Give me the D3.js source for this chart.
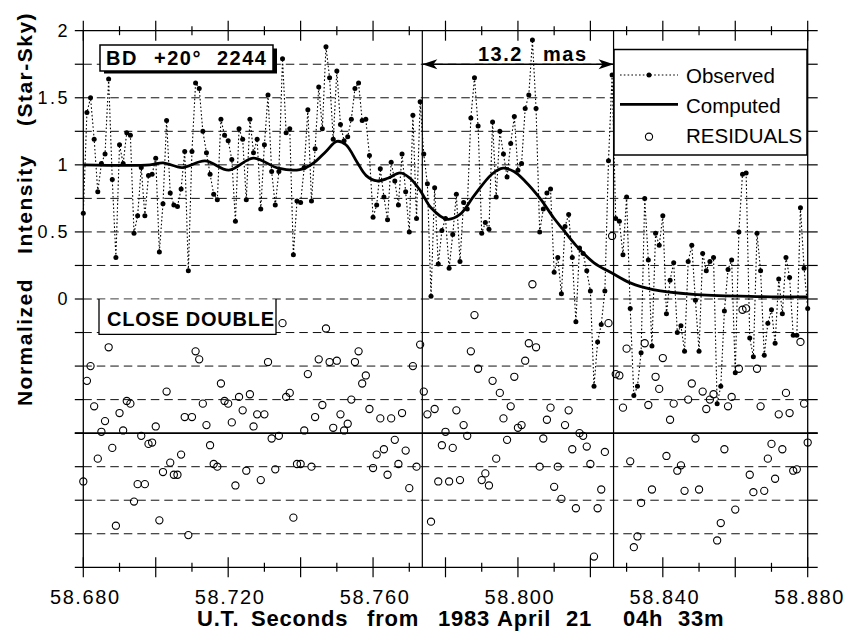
<!DOCTYPE html>
<html lang="en">
<head>
<meta charset="utf-8">
<script src="https://d3js.org/d3.v7.min.js"></script>
<title>BD +20 2244 occultation</title>
<style>
  body { margin:0; background:#fff; }
  svg { display:block; font-family:"Liberation Sans", Arial, Helvetica, sans-serif; }
  .grid { stroke:#111; stroke-width:1; stroke-dasharray:8.5,5; fill:none; }
  .axis { stroke:#000; stroke-width:1.3; fill:none; }
  .tick { stroke:#000; stroke-width:1.2; }
  .obsline { stroke:#000; stroke-width:1.1; stroke-dasharray:1.6,2.2; fill:none; }
  .computed { stroke:#000; stroke-width:2.8; fill:none; }
  .resid { stroke:#000; stroke-width:1.1; fill:none; }
  .bold { font-weight:bold; }
</style>
</head>
<body>
<script>

// samples every 1 ms starting at 58.680 s
var sampleStart = 58.680, sampleStep = 0.001;

var observed = [
  0.64,1.39,1.50,1.19,0.80,1.01,1.08,1.64,0.89,0.31,
  1.15,1.01,1.24,1.22,0.49,0.62,0.98,0.62,0.92,0.93,
  1.05,0.35,0.71,1.33,0.79,0.70,0.69,0.82,1.10,0.21,
  1.10,1.61,1.57,1.25,1.09,0.93,0.78,0.74,1.34,1.22,
  1.18,1.04,0.58,1.27,1.19,0.74,1.34,1.09,1.19,0.67,
  1.15,1.52,0.95,0.70,0.95,1.79,1.24,1.27,0.33,0.73,
  0.72,0.98,1.41,0.73,1.12,1.58,1.27,1.88,1.65,1.19,
  1.70,1.30,1.18,1.21,1.34,1.57,1.61,1.33,1.34,1.07,
  0.61,0.70,0.97,0.76,0.59,1.02,0.88,0.70,1.08,0.80,
  0.50,1.37,0.60,1.47,1.08,0.86,0.02,0.83,0.26,0.51,
  0.60,0.23,0.48,0.78,0.28,0.72,0.67,1.35,1.65,1.29,
  0.49,0.57,0.52,1.32,0.76,1.25,1.08,0.91,1.16,1.36,
  0.96,1.01,1.42,1.52,1.93,1.42,0.50,0.67,0.79,0.82,
  0.20,0.31,0.04,0.54,0.63,0.31,-0.17,0.38,0.34,0.21,
  0.06,-0.65,-0.32,-0.19,0.06,1.03,1.67,0.60,0.58,0.33,
  0.76,-0.07,-0.72,-0.65,-0.40,0.75,0.29,-0.35,0.49,0.40,
  0.62,-0.11,0.14,0.27,-0.25,-0.20,-0.39,0.28,0.40,-0.01,
  -0.39,0.34,0.21,0.28,0.31,-0.78,-0.65,-0.09,0.22,0.29,
  -0.55,0.50,0.93,0.94,-0.29,-0.43,0.49,0.21,-0.42,-0.18,
  -0.08,-0.33,0.15,-0.11,0.31,0.16,-0.27,-0.27,0.68,0.23,
  -0.07
];

var residuals = [
  -0.36,0.39,0.50,0.20,-0.19,0.01,0.09,0.64,-0.11,-0.69,
  0.15,0.02,0.24,0.22,-0.51,-0.38,-0.02,-0.38,-0.08,-0.07,
  0.05,-0.65,-0.29,0.31,-0.22,-0.31,-0.31,-0.16,0.12,-0.76,
  0.12,0.61,0.55,0.22,0.06,-0.09,-0.23,-0.25,0.37,0.24,
  0.22,0.08,-0.39,0.27,0.17,-0.28,0.29,0.05,0.14,-0.35,
  0.14,0.53,-0.04,-0.27,-0.02,0.82,0.27,0.30,-0.63,-0.23,
  -0.23,0.02,0.44,-0.25,0.12,0.55,0.21,0.78,0.53,0.04,
  0.54,0.14,0.02,0.07,0.25,0.53,0.61,0.37,0.43,0.18,
  -0.26,-0.16,0.11,-0.12,-0.31,0.11,-0.05,-0.23,0.15,-0.13,
  -0.41,0.50,-0.25,0.66,0.31,0.14,-0.66,0.18,-0.36,-0.09,
  0.01,-0.36,-0.11,0.17,-0.35,0.06,-0.02,0.61,0.88,0.48,
  -0.35,-0.30,-0.39,0.39,-0.19,0.30,0.11,-0.05,0.20,0.42,
  0.04,0.06,0.54,0.67,1.11,0.64,-0.25,-0.04,0.10,0.19,
  -0.40,-0.25,-0.49,0.06,0.17,-0.12,-0.56,0.00,-0.02,-0.10,
  -0.23,-0.92,-0.56,-0.42,-0.14,0.82,1.47,0.44,0.43,0.19,
  0.63,-0.21,-0.85,-0.77,-0.52,0.67,0.21,-0.42,0.42,0.33,
  0.56,-0.17,0.10,0.22,-0.28,-0.24,-0.43,0.25,0.37,-0.04,
  -0.42,0.31,0.18,0.25,0.29,-0.80,-0.67,-0.12,0.20,0.27,
  -0.57,0.48,0.92,0.93,-0.31,-0.44,0.48,0.20,-0.43,-0.19,
  -0.08,-0.34,0.14,-0.12,0.30,0.15,-0.28,-0.27,0.68,0.22,
  -0.07
];

var computedTime = [
  58.6800,58.6984,58.7020,58.7073,58.7136,58.7202,58.7269,58.7338,58.7398,58.7434,
  58.7470,58.7500,58.7525,58.7556,58.7581,58.7611,58.7641,58.7675,58.7702,58.7730,
  58.7760,58.7804,58.7840,58.7879,58.7928,58.7959,58.7989,58.8019,58.8061,58.8100,
  58.8124,58.8160,58.8210,58.8262,58.8310,58.8373,58.8484,58.8641,58.8800
];
var computedValue = [
  1.000,1.000,1.015,0.980,1.030,0.960,1.050,0.975,0.965,1.010,
  1.100,1.175,1.150,1.020,0.920,0.880,0.900,0.940,0.900,0.810,
  0.680,0.595,0.630,0.770,0.930,0.975,0.950,0.880,0.750,0.600,
  0.520,0.400,0.270,0.190,0.120,0.070,0.035,0.020,0.015
];

// disappearance of the two components
var eventTimes = [58.7736, 58.8264];
var separationLabel = ["13.2", "mas"];
var residualBase = -1;

var xMajorTicks = [58.68,58.70,58.72,58.74,58.76,58.78,58.80,58.82,58.84,58.86,58.88];
var xMinorTicks = [58.69,58.71,58.73,58.75,58.77,58.79,58.81,58.83,58.85,58.87];
var xLabelValues = [58.68,58.72,58.76,58.80,58.84,58.88];
var xLabels = ["58.680","58.720","58.760","58.800","58.840","58.880"];
var yLabelValues = [2,1.5,1,0.5,0];
var yLabels = ["2","1.5","1","0.5","0"];
var gridValues = [1.75,1.5,1.25,1,0.75,0.5,0.25,0,-0.25,-0.5,-0.75,-1.25,-1.5,-1.75];

var width = 847, height = 632;

var X = d3.scaleLinear().domain([58.68, 58.88]).range([83.3, 807.7]);
var Y = d3.scaleLinear().domain([-2, 2]).range([567.3, 30.7]);
var x0 = X.range()[0], x1 = X.range()[1];

var svg = d3.select("body").append("svg")
  .attr("width", width)
  .attr("height", height);

// dashed grid
svg.selectAll(".grid").data(gridValues).enter().append("line")
  .attr("class","grid")
  .attr("x1", x0).attr("x2", x1)
  .attr("y1", function(d){ return Y(d); })
  .attr("y2", function(d){ return Y(d); });

// left / right ticks on every grid line
var yTickVals = gridValues.concat([residualBase]);
svg.selectAll(".ltick").data(yTickVals).enter().append("line")
  .attr("class","tick")
  .attr("x1", x0 - 8.5).attr("x2", x0)
  .attr("y1", function(d){ return Y(d); }).attr("y2", function(d){ return Y(d); });
svg.selectAll(".rtick").data(yTickVals).enter().append("line")
  .attr("class","tick")
  .attr("x1", x1).attr("x2", x1 + 10)
  .attr("y1", function(d){ return Y(d); }).attr("y2", function(d){ return Y(d); });

// residual zero line
svg.append("line")
  .attr("x1", x0 - 8.5).attr("x2", x1 + 10)
  .attr("y1", Y(residualBase)).attr("y2", Y(residualBase))
  .attr("stroke","#000").attr("stroke-width",1.7);

// frame
svg.append("line").attr("class","axis")
  .attr("x1", x0 - 8.5).attr("x2", x1 + 10).attr("y1", Y(2)).attr("y2", Y(2));
svg.append("line").attr("class","axis")
  .attr("x1", x0 - 8.5).attr("x2", x1 + 10).attr("y1", Y(-2)).attr("y2", Y(-2));
svg.append("line").attr("class","axis")
  .attr("x1", x0).attr("x2", x0).attr("y1", Y(2)).attr("y2", Y(-2));
svg.append("line").attr("class","axis")
  .attr("x1", x1).attr("x2", x1).attr("y1", Y(2)).attr("y2", Y(-2));

// x ticks, top and bottom, crossing the frame
[Y(2), Y(-2)].forEach(function(yy){
  svg.selectAll(null).data(xMajorTicks).enter().append("line")
    .attr("class","tick")
    .attr("x1", function(d){ return X(d); }).attr("x2", function(d){ return X(d); })
    .attr("y1", yy - 10).attr("y2", yy + 10);
  svg.selectAll(null).data(xMinorTicks).enter().append("line")
    .attr("class","tick")
    .attr("x1", function(d){ return X(d); }).attr("x2", function(d){ return X(d); })
    .attr("y1", yy - 4.5).attr("y2", yy + 4.5);
});

// event lines
svg.selectAll(".event").data(eventTimes).enter().append("line")
  .attr("stroke","#000").attr("stroke-width",1.2)
  .attr("x1", function(d){ return X(d); }).attr("x2", function(d){ return X(d); })
  .attr("y1", Y(2)).attr("y2", Y(-2));

// separation arrow
var ay = Y(1.75);
var ax0 = X(eventTimes[0]), ax1 = X(eventTimes[1]);
svg.append("line").attr("stroke","#000").attr("stroke-width",1.5)
  .attr("x1", ax0).attr("x2", ax1).attr("y1", ay).attr("y2", ay);
svg.append("path").attr("fill","#000")
  .attr("d", "M"+ax0+","+ay+"L"+(ax0+15)+","+(ay-5)+"L"+(ax0+11)+","+ay+"L"+(ax0+15)+","+(ay+5)+"Z");
svg.append("path").attr("fill","#000")
  .attr("d", "M"+ax1+","+ay+"L"+(ax1-15)+","+(ay-5)+"L"+(ax1-11)+","+ay+"L"+(ax1-15)+","+(ay+5)+"Z");
svg.append("text").attr("class","bold")
  .attr("x", 478).attr("y", 60.5)
  .attr("font-size", 20).attr("letter-spacing", 1.5)
  .text(separationLabel[0]);
svg.append("text").attr("class","bold")
  .attr("x", 543).attr("y", 60.5)
  .attr("font-size", 20).attr("letter-spacing", 1.5)
  .text(separationLabel[1]);

// observed
var obsData = observed.map(function(v, i){ return {t: sampleStart + i*sampleStep, v: v}; });
var resData = residuals.map(function(r, i){ return {t: sampleStart + i*sampleStep, r: r}; });

var line = d3.line().x(function(d){ return X(d.t); }).y(function(d){ return Y(d.v); });
svg.append("path").datum(obsData).attr("class","obsline").attr("d", line);
svg.selectAll(".obs").data(obsData).enter().append("circle")
  .attr("cx", function(d){ return X(d.t); })
  .attr("cy", function(d){ return Y(d.v); })
  .attr("r", 2.5).attr("fill","#000");

// computed model
var compData = computedTime.map(function(t, i){ return {t: t, v: computedValue[i]}; });
svg.append("path").datum(compData).attr("class","computed")
  .attr("d", d3.line().curve(d3.curveCatmullRom.alpha(0.5))
    .x(function(d){ return X(d.t); }).y(function(d){ return Y(d.v); }));

// residuals around -1
svg.selectAll(".res").data(resData).enter().append("circle")
  .attr("class","resid")
  .attr("cx", function(d){ return X(d.t); })
  .attr("cy", function(d){ return Y(residualBase + d.r); })
  .attr("r", 3.6);

// star label with drop shadow
svg.append("rect").attr("x", 104).attr("y", 48.5).attr("width", 173).attr("height", 25).attr("fill","#000");
svg.append("rect").attr("x", 100).attr("y", 45).attr("width", 173).attr("height", 26)
  .attr("fill","#fff").attr("stroke","#000").attr("stroke-width",1.5);
[["BD",106],["+20\u00b0",154],["2244",217]].forEach(function(p){
  svg.append("text").attr("class","bold").attr("x", p[1]).attr("y", 65)
    .attr("font-size", 20).attr("letter-spacing", 1.5).text(p[0]);
});

// close double box
svg.append("rect").attr("x", 99).attr("y", Y(0) + 0.6).attr("width", 177).attr("height", 34.4).attr("fill","#fff");
svg.append("path").attr("fill","none").attr("stroke","#000").attr("stroke-width",1.3)
  .attr("d", "M99,"+Y(0)+"V334.3H276V"+Y(0));
svg.append("text").attr("class","bold").attr("x", 107).attr("y", 326)
  .attr("font-size", 20).attr("textLength", 167).attr("lengthAdjust","spacing")
  .text("CLOSE DOUBLE");

// legend
svg.append("rect").attr("x", 614).attr("y", 49.5).attr("width", 193).attr("height", 105.5)
  .attr("fill","#fff").attr("stroke","#000").attr("stroke-width",1.5);
svg.append("line").attr("class","obsline").attr("x1",620).attr("x2",678).attr("y1",75).attr("y2",75);
svg.append("circle").attr("cx",649).attr("cy",75).attr("r",2.5).attr("fill","#000");
svg.append("line").attr("class","computed").attr("x1",620).attr("x2",678).attr("y1",104.3).attr("y2",104.3);
svg.append("circle").attr("class","resid").attr("cx",649).attr("cy",136.7).attr("r",3.6);
[["Observed",83.3],["Computed",113.3],["RESIDUALS",143.3]].forEach(function(p){
  svg.append("text").attr("x",686).attr("y",p[1]).attr("font-size",20.5).text(p[0]);
});

// tick labels
svg.selectAll(".xl").data(xLabelValues).enter().append("text")
  .attr("x", function(d){ return X(d) + 2; })
  .attr("y", 603.5)
  .attr("text-anchor","middle").attr("font-size",20).attr("letter-spacing",1.6)
  .text(function(d, i){ return xLabels[i]; });
svg.selectAll(".yl").data(yLabelValues).enter().append("text")
  .attr("x", 70)
  .attr("y", function(d){ return Y(d); })
  .attr("dy","0.36em")
  .attr("text-anchor","end").attr("font-size",18).attr("letter-spacing",2.5)
  .text(function(d, i){ return yLabels[i]; });

// axis titles
[["U.T.",197],["Seconds",251],["from",367],["1983",438],["April",497],["21",566],["04h",623],["33m",678]].forEach(function(p){
  svg.append("text").attr("class","bold").attr("x",p[1]).attr("y",626)
    .attr("font-size",22).attr("letter-spacing",0.8).text(p[0]);
});
[["(Star-Sky)",69],["Intensity",204],["Normalized",342]].forEach(function(p){
  svg.append("text").attr("class","bold")
    .attr("transform","translate(32,"+p[1]+") rotate(-90)")
    .attr("text-anchor","middle").attr("font-size",21).attr("letter-spacing",1.5)
    .text(p[0]);
});

</script>
</body>
</html>
